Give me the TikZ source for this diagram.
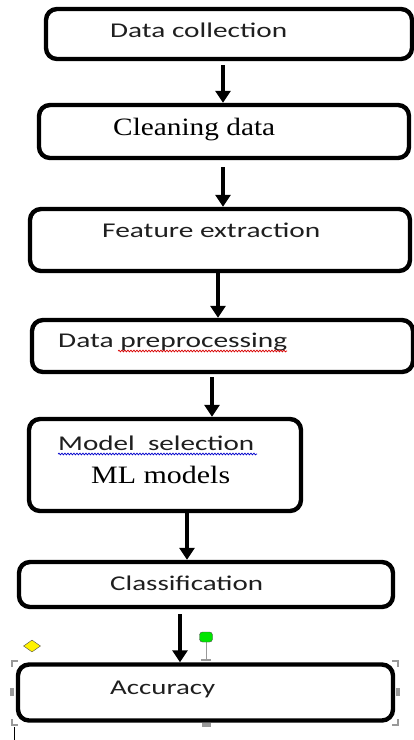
\documentclass[tikz,border=0pt]{standalone}
\usepackage{fontspec}
\usepackage{graphicx}
\setmainfont{Liberation Serif}
\newfontfamily\sansf{Carlito}
\usetikzlibrary{arrows.meta,decorations.pathmorphing,shapes.geometric}
\newcommand\fitx[2]{\resizebox{#1pt}{\height}{#2}}
\begin{document}
\begin{tikzpicture}[x=1pt,y=-1pt,
  box/.style={draw=black,line width=4.4pt,rounded corners=11pt,fill=white,inner sep=0pt},
  arr/.style={line width=3.8pt,-{Triangle[width=15pt,length=12pt]}},
  lab/.style={anchor=base west,inner sep=0pt,text=black!88},
  sl/.style={font=\sansf\fontsize{21}{24}\selectfont},
  sr/.style={font=\fontsize{25}{28}\selectfont},
  wavy/.style={decorate,decoration={snake,amplitude=0.9pt,segment length=3pt},line width=0.7pt},
  handle/.style={draw=gray!80,line width=1.2pt}]
\useasboundingbox (0,0) rectangle (414,740);
\fill[white] (0,0) rectangle (414,740);
% boxes
\node[box,minimum width=366pt,minimum height=50pt] (b1) at (229,34) {};
\node[box,minimum width=370pt,minimum height=53pt] (b2) at (224,131.5) {};
\node[box,minimum width=380pt,minimum height=62pt] (b3) at (220,240) {};
\node[box,minimum width=381pt,minimum height=52pt] (b4) at (222.5,346) {};
\node[box,minimum width=272pt,minimum height=92pt] (b5) at (165,465) {};
\node[box,minimum width=374pt,minimum height=45pt] (b6) at (206,584.5) {};
\node[box,minimum width=375pt,minimum height=56pt] (b7) at (205.5,692.5) {};
% labels
\node[lab,sl] (t1) at (110,37) {\fitx{177}{Data collection}};
\node[lab,sr,text=black] (t2) at (113,135) {\fitx{162}{Cleaning data}};
\node[lab,sl] (t3) at (102,237) {\fitx{218}{Feature extraction}};
\node[lab,sl] (t4) at (58,347) {\fitx{229}{Data preprocessing}};
\node[lab,sl] (t5) at (58,450) {\fitx{196}{Model\ \ selection}};
\node[lab,sr,text=black] (t6) at (91,483) {\fitx{139}{ML models}};
\node[lab,sl] (t7) at (110,590) {\fitx{153}{Classification}};
\node[lab,sl] (t8) at (110,694) {\fitx{105}{Accuracy}};
% wavy underlines
\coordinate (w1a) at (118,351); \coordinate (w1b) at (287,351);
\draw[wavy,red!85!black] (w1a) -- (w1b);
\coordinate (w2a) at (58,454); \coordinate (w2b) at (257,454);
\draw[wavy,blue!80!black] (w2a) -- (w2b);
% arrow columns
\coordinate (x1) at (223,0);
\coordinate (x2) at (223,0);
\coordinate (x3) at (218,0);
\coordinate (x4) at (212,0);
\coordinate (x5) at (187,0);
\coordinate (x6) at (180,0);
\draw[arr,shorten <=4pt] (b1.south -| x1) -- (b2.north -| x1);
\draw[arr,shorten <=7pt] (b2.south -| x2) -- (b3.north -| x2);
\draw[arr] (b3.south -| x3) -- (b4.north -| x3);
\draw[arr,shorten <=3pt] (b4.south -| x4) -- (b5.north -| x4);
\draw[arr] (b5.south -| x5) -- (b6.north -| x5);
\draw[arr,shorten <=5pt] (b6.south -| x6) -- (b7.north -| x6);
% selection decorations around the last box
\coordinate (hTL) at (12,661); \coordinate (hTR) at (398,661);
\coordinate (hBL) at (12,725); \coordinate (hBR) at (398,725);
\draw[handle] ([yshift=-6pt]hTL) -- (hTL) -- ++(6,0);
\draw[handle] ([yshift=-6pt]hTR) -- (hTR) -- ++(-6,0);
\draw[handle] ([yshift=6pt]hBL) -- (hBL) -- ++(6,0);
\draw[handle] ([yshift=6pt]hBR) -- (hBR) -- ++(-6,0);
\fill[gray!80] (10,688) rectangle (14,696);
\fill[gray!80] (396,688) rectangle (400,696);
\fill[gray!80] (202,723) rectangle (211,727);
\coordinate (rot) at (206,637);
\draw[gray!80,line width=1pt] (rot) -- (206,660);
\draw[gray!80,line width=1.2pt] (201,660) -- (211,660);
\node[draw=gray!60!black,fill=green!90!black,rounded corners=3pt,inner sep=0pt,minimum width=13pt,minimum height=10pt] (grn) at (rot) {};
\node[draw=gray!60!black,fill=yellow,diamond,inner sep=0pt,minimum width=17pt,minimum height=12pt] (ylw) at (32,646) {};
\draw[black,line width=1pt] (14,727) -- (14,740);
\end{tikzpicture}
\end{document}
